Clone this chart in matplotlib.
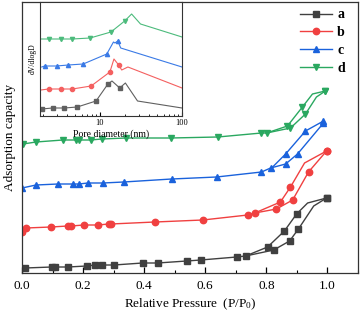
import matplotlib
matplotlib.use("Agg")
import matplotlib.pyplot as plt
from matplotlib.ticker import MultipleLocator, LogLocator, NullFormatter, FixedLocator, FixedFormatter
from matplotlib.lines import Line2D

plt.rcParams['font.family'] = ['Liberation Serif', 'DejaVu Serif']
plt.rcParams['mathtext.fontset'] = 'custom'
plt.rcParams['mathtext.rm'] = 'Liberation Serif'
plt.rcParams['mathtext.it'] = 'Liberation Serif:italic'

labels = ['a', 'b', 'c', 'd']
colors = ['#404040', '#f04040', '#1a62dc', '#2aa860']
inset_colors = ['#606060', '#f46060', '#3a7ae6', '#4cbb7c']
markers = ['s', 'o', '^', 'v']

# ---- main isotherms: adsorption branch / desorption branch ----
a_ads_x = [0.010, 0.098, 0.108, 0.150, 0.212, 0.239, 0.261, 0.301, 0.395, 0.444, 0.539, 0.585, 0.703, 0.732, 0.824, 0.876, 0.905, 0.955, 0.997]
a_ads_y = [5, 6, 6, 6, 7, 8, 8, 8, 10, 10, 12, 13, 16, 17, 23, 32, 44, 67, 75]
a_ads_m = [0, 1, 2, 3, 4, 5, 6, 7, 8, 9, 10, 11, 12, 13, 14, 15, 16, 18]
a_des_x = [0.997, 0.935, 0.899, 0.859, 0.804, 0.732]
a_des_y = [75, 70, 59, 42, 26, 17]
a_des_m = [0, 2, 3, 4]

b_ads_x = [0.0, 0.013, 0.095, 0.150, 0.160, 0.203, 0.248, 0.284, 0.291, 0.435, 0.592, 0.739, 0.762, 0.833, 0.886, 0.938, 0.997]
b_ads_y = [41, 45, 46, 47, 47, 48, 48, 49, 49, 51, 53, 58, 60, 64, 73, 101, 122]
b_ads_m = list(range(17))
b_des_x = [0.997, 0.925, 0.879, 0.846, 0.762]
b_des_y = [122, 110, 86, 71, 60]
b_des_m = [0, 2, 3]

c_ads_x = [0.0, 0.046, 0.118, 0.167, 0.186, 0.216, 0.265, 0.333, 0.490, 0.637, 0.784, 0.814, 0.863, 0.902, 0.987]
c_ads_y = [85, 88, 89, 89, 89, 90, 90, 91, 94, 96, 101, 105, 109, 119, 150]
c_ads_m = list(range(15))
c_des_x = [0.987, 0.928, 0.863, 0.814]
c_des_y = [152, 142, 119, 104]
c_des_m = [0, 1, 2]

d_ads_x = [0.003, 0.046, 0.134, 0.176, 0.186, 0.225, 0.261, 0.340, 0.487, 0.641, 0.784, 0.801, 0.879, 0.928, 0.964, 0.993]
d_ads_y = [129, 131, 133, 133, 133, 133, 134, 135, 135, 136, 140, 140, 145, 159, 176, 182]
d_ads_m = [0, 1, 2, 3, 4, 5, 6, 7, 8, 9, 10, 11, 12, 13, 15]
d_des_x = [0.993, 0.951, 0.918, 0.869, 0.801]
d_des_y = [182, 179, 166, 147, 140]
d_des_m = [0, 2, 3]

# ---- inset pore size distributions ----
pa_x = [1.95, 2.64, 3.68, 5.28, 8.95, 12.5, 14.0, 17.4, 20.4, 28.7, 100]
pa_y = [7, 8, 8, 9, 15, 32, 35, 28, 33, 15, 8]
pa_m = [0, 1, 2, 3, 4, 5, 7]
pb_x = [1.9, 2.36, 3.30, 4.60, 7.80, 13.2, 14.8, 16.9, 18.4, 21.9, 100]
pb_y = [26, 27, 27, 27, 30, 44, 57, 51, 46, 49, 28]
pb_m = [1, 2, 3, 4, 5, 7]
pc_x = [1.95, 2.11, 2.95, 4.11, 6.24, 12.1, 14.6, 15.2, 16.5, 17.9, 100]
pc_y = [49, 50, 50, 51, 52, 62, 74, 73, 75, 68, 49]
pc_m = [1, 2, 3, 4, 5, 8]
pd_x = [1.9, 2.36, 3.30, 4.60, 7.58, 13.6, 20.0, 24.3, 31.2, 100]
pd_y = [77, 77, 77, 77, 78, 84, 95, 102, 92, 79]
pd_m = [1, 2, 3, 4, 5, 6]

fig = plt.figure(figsize=(3.6, 3.15), dpi=100)
ax = fig.add_axes([22/360, 1 - 273/315, 336/360, 271/315])

series = [
    (a_ads_x, a_ads_y, a_ads_m, a_des_x, a_des_y, a_des_m),
    (b_ads_x, b_ads_y, b_ads_m, b_des_x, b_des_y, b_des_m),
    (c_ads_x, c_ads_y, c_ads_m, c_des_x, c_des_y, c_des_m),
    (d_ads_x, d_ads_y, d_ads_m, d_des_x, d_des_y, d_des_m),
]
for (ax_x, ax_y, am, dx, dy, dm), c, mk in zip(series, colors, markers):
    ax.plot(ax_x, ax_y, color=c, lw=1.0, marker=mk, ms=4.6, markevery=am)
    ax.plot(dx, dy, color=c, lw=1.0, marker=mk, ms=4.6, markevery=dm)

ax.set_xlim(0, 1.1)
ax.set_ylim(0, 271)
ax.set_yticks([])
ax.xaxis.set_major_locator(MultipleLocator(0.2))
ax.xaxis.set_minor_locator(MultipleLocator(0.1))
ax.tick_params(axis='x', which='major', direction='in', length=4, width=0.9, labelsize=9.5, pad=5)
ax.tick_params(axis='x', which='minor', direction='in', length=2, width=0.8)
ax.xaxis.set_major_formatter(matplotlib.ticker.FormatStrFormatter('%.1f'))
for s in ax.spines.values():
    s.set_linewidth(0.9)
    s.set_color('#333333')
ax.set_xlabel(r'Relative Pressure  (P/P$_\mathregular{0}$)', fontsize=9.5, labelpad=3)
ax.set_ylabel('Adsorption capacity', fontsize=9.5, labelpad=4)

handles = [Line2D([], [], color=c, lw=1.0, marker=mk, ms=4.6) for c, mk in zip(colors, markers)]
leg = ax.legend(handles, labels, loc='upper right', bbox_to_anchor=(0.99, 1.012), frameon=False,
                prop={'weight': 'bold', 'size': 10}, handlelength=2.3, labelspacing=0.35,
                handletextpad=0.4, numpoints=1, borderaxespad=0.3)

# inset
ins = fig.add_axes([39.5/360, 1 - 116/315, 142.5/360, 114/315])
for (px, py, pm), c, mk in zip([(pa_x, pa_y, pa_m), (pb_x, pb_y, pb_m), (pc_x, pc_y, pc_m), (pd_x, pd_y, pd_m)],
                               inset_colors, markers):
    ins.plot(px, py, color=c, lw=0.8, marker=mk, ms=3.0, markevery=pm)
ins.set_xscale('log')
ins.set_xlim(1.83, 100)
ins.set_ylim(0, 114)
ins.set_yticks([])
ins.xaxis.set_major_locator(FixedLocator([10, 100]))
ins.xaxis.set_major_formatter(FixedFormatter(['10', '100']))
ins.xaxis.set_minor_locator(LogLocator(base=10, subs=range(2, 10)))
ins.xaxis.set_minor_formatter(NullFormatter())
ins.tick_params(axis='x', which='major', direction='in', length=3, width=0.8, labelsize=6, pad=2)
ins.tick_params(axis='x', which='minor', direction='in', length=1.5, width=0.6)
for s in ins.spines.values():
    s.set_linewidth(0.8)
    s.set_color('#333333')
ins.set_xlabel('Pore diameter (nm)', fontsize=7, labelpad=2)
ins.set_ylabel('dV/dlogD', fontsize=5.5, labelpad=2)

fig.savefig('out.png', dpi=100)
